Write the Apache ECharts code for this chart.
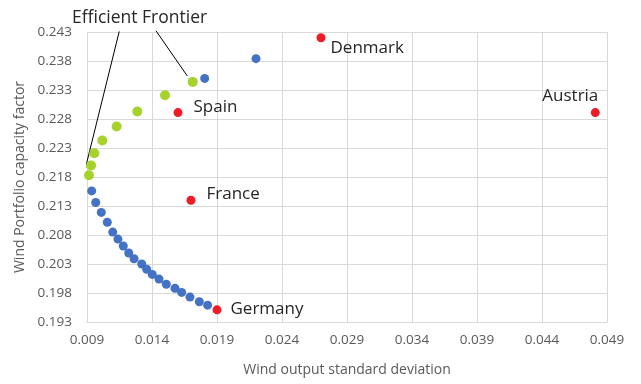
<!DOCTYPE html>
<html><head><meta charset="utf-8">
<script src="https://cdn.jsdelivr.net/npm/echarts@6/dist/echarts.min.js"></script>
<style>html,body{margin:0;padding:0;background:#fff}#c{width:641px;height:384px}</style>
</head><body><div id="c"></div>
<script>
// x = wind output standard deviation, y = wind portfolio capacity factor
const frontierBlue = [
  [0.00936,0.2156],[0.00967,0.2136],[0.0101,0.2119],[0.01056,0.2102],[0.01098,0.2085],
  [0.01138,0.2073],[0.01179,0.2061],[0.01221,0.2049],[0.01262,0.2039],[0.01321,0.2030],
  [0.01359,0.2021],[0.01402,0.2012],[0.01454,0.2004],[0.0151,0.1995],[0.01577,0.1988],
  [0.01628,0.1981],[0.01692,0.1973],[0.01764,0.1965],[0.01828,0.1959],
  [0.01805,0.2350],[0.0220,0.2384]
];
const frontierGreen = [
  [0.00915,0.2183],[0.00931,0.2200],[0.00956,0.2221],[0.01018,0.2243],
  [0.01128,0.2267],[0.01287,0.2293],[0.0150,0.2321],[0.01713,0.2344]
];
const countries = ['Denmark','Austria','Spain','France','Germany'];
const countryX = [0.0270,0.0481,0.0160,0.0170,0.0190];
const countryY = [0.2420,0.2291,0.2291,0.2140,0.1951];
const annotLine1 = [[0.01148,0.2431],[0.00884,0.2192]];
const annotLine2 = [[0.01431,0.2432],[0.01672,0.2354]];
const xTicks = {min:0.009,max:0.049,interval:0.005};
const yTicks = {min:0.193,max:0.243,interval:0.005};

const labelPos = {
  Denmark:{position:'right',offset:[0,10]},
  Austria:{position:'top',offset:[-25,2]},
  Spain:{position:'right',offset:[6,-5]},
  France:{position:'right',offset:[6,-6]},
  Germany:{position:'right',offset:[4,-1]}
};
const FONT = '"Open Sans", sans-serif';
const chart = echarts.init(document.getElementById('c'),null,{renderer:'canvas'});
const axisCommon = {
  axisLine:{show:true,lineStyle:{color:'#d9d9d9'}},
  axisTick:{show:false},
  splitLine:{show:true,lineStyle:{color:'#d9d9d9'}},
  axisLabel:{color:'#595959',fontSize:13.5,fontFamily:FONT,formatter:v=>v.toFixed(3)},
  nameTextStyle:{color:'#595959',fontSize:14,fontFamily:FONT}
};
chart.setOption({
  animation:false,
  grid:{left:87,right:34,top:32,bottom:62},
  xAxis:Object.assign({type:'value',min:xTicks.min,max:xTicks.max,interval:xTicks.interval,
    name:'Wind output standard deviation',nameLocation:'middle',nameGap:41},axisCommon,
    {axisLabel:Object.assign({},axisCommon.axisLabel,{margin:11})}),
  yAxis:Object.assign({type:'value',min:yTicks.min,max:yTicks.max,interval:yTicks.interval,
    name:'Wind Portfolio capacity factor',nameLocation:'middle',nameGap:60},axisCommon,
    {axisLabel:Object.assign({},axisCommon.axisLabel,{margin:15})}),
  graphic:[{type:'text',left:72,top:9,style:{text:'Efficient Frontier',font:'17.5px "Open Sans", sans-serif',fill:'#262626'}}],
  series:[
    {type:'line',data:annotLine1,showSymbol:false,symbol:'none',clip:false,silent:true,
     lineStyle:{color:'#000',width:1},z:1},
    {type:'line',data:annotLine2,showSymbol:false,symbol:'none',clip:false,silent:true,
     lineStyle:{color:'#000',width:1},z:1},
    {type:'scatter',data:frontierBlue,symbolSize:9,itemStyle:{color:'#4472C4',opacity:1},z:3},
    {type:'scatter',data:frontierGreen,symbolSize:10,itemStyle:{color:'#A5D22B',opacity:1},z:3},
    {type:'scatter',symbolSize:9,itemStyle:{color:'#EE1C25',opacity:1},z:4,
     data:countries.map((n,i)=>({name:n,value:[countryX[i],countryY[i]],
       label:Object.assign({show:true,formatter:n,color:'#262626',fontSize:17,fontFamily:FONT},labelPos[n])}))}
  ]
});
</script></body></html>
